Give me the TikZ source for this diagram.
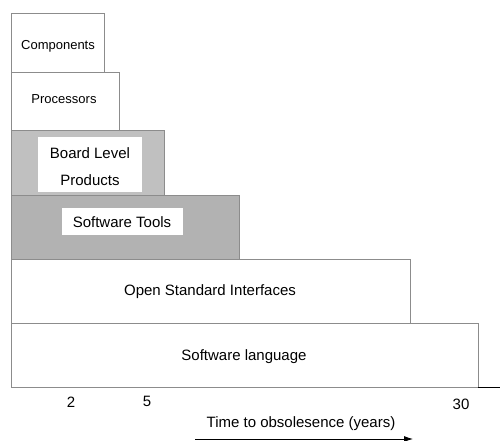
\documentclass[tikz,border=0pt]{standalone}
\usepackage{fontspec}
\setmainfont{Liberation Sans}
\usetikzlibrary{arrows.meta}
\definecolor{edgegray}{HTML}{8C8C8C}
\definecolor{boardgray}{HTML}{C0C0C0}
\definecolor{toolgray}{HTML}{B2B2B2}
\tikzset{
  layer/.style={draw=edgegray, line width=0.8pt, anchor=north west, inner sep=0pt, outer sep=0pt},
  lab/.style={font=\fontsize{15}{27}\selectfont, inner sep=0pt, align=center},
  smalllab/.style={font=\fontsize{13}{15}\selectfont, inner sep=0pt},
  whitelab/.style={fill=white, inner sep=0pt, anchor=north west},
  axis/.style={black, line width=0.8pt}
}
\begin{document}
\begin{tikzpicture}[x=1pt,y=-1pt]
\useasboundingbox (0,0) rectangle (500,441);
% layers
\node[layer, fill=white, minimum width=467, minimum height=64] (lang) at (11,323) {};
\node[layer, fill=white, minimum width=399, minimum height=64] (osi) at (11,259) {};
\node[layer, fill=toolgray, minimum width=228, minimum height=64] (tools) at (11,195) {};
\node[layer, fill=boardgray, minimum width=153, minimum height=65] (board) at (11,130) {};
\node[layer, fill=white, minimum width=108, minimum height=58] (proc) at (11,72) {};
\node[layer, fill=white, minimum width=93, minimum height=59] (comp) at (11,13) {};
% white label backgrounds
\node[whitelab, minimum width=104, minimum height=55] (boardbg) at (38,137) {};
\node[whitelab, minimum width=121, minimum height=27] (toolsbg) at (62,208) {};
% labels
\node[smalllab] (tcomp) at (58,46) {Components};
\node[smalllab] (tproc) at (64,99) {Processors};
\node[lab] (tboard) at (90,166.5) {Board Level\\Products};
\node[lab] (ttools) at (122,222) {Software Tools};
\node[lab] (tosi) at (210,292) {Open Standard Interfaces};
\node[lab] (tlang) at (244,357) {Software language};
% axis
\coordinate (axend) at (500,387);
\draw[axis] (lang.south east) -- (axend);
\node[lab] (n2) at (71,402) {2};
\node[lab] (n5) at (147,401) {5};
\node[lab] (n30) at (461,404) {30};
\node[lab] (ttime) at (301,424) {Time to obsolesence (years)};
\coordinate (arrstart) at (195,439);
\coordinate (arrend) at (413,439);
\draw[axis, -{Latex[length=9pt,width=6pt]}] (arrstart) -- (arrend);
\end{tikzpicture}
\end{document}
